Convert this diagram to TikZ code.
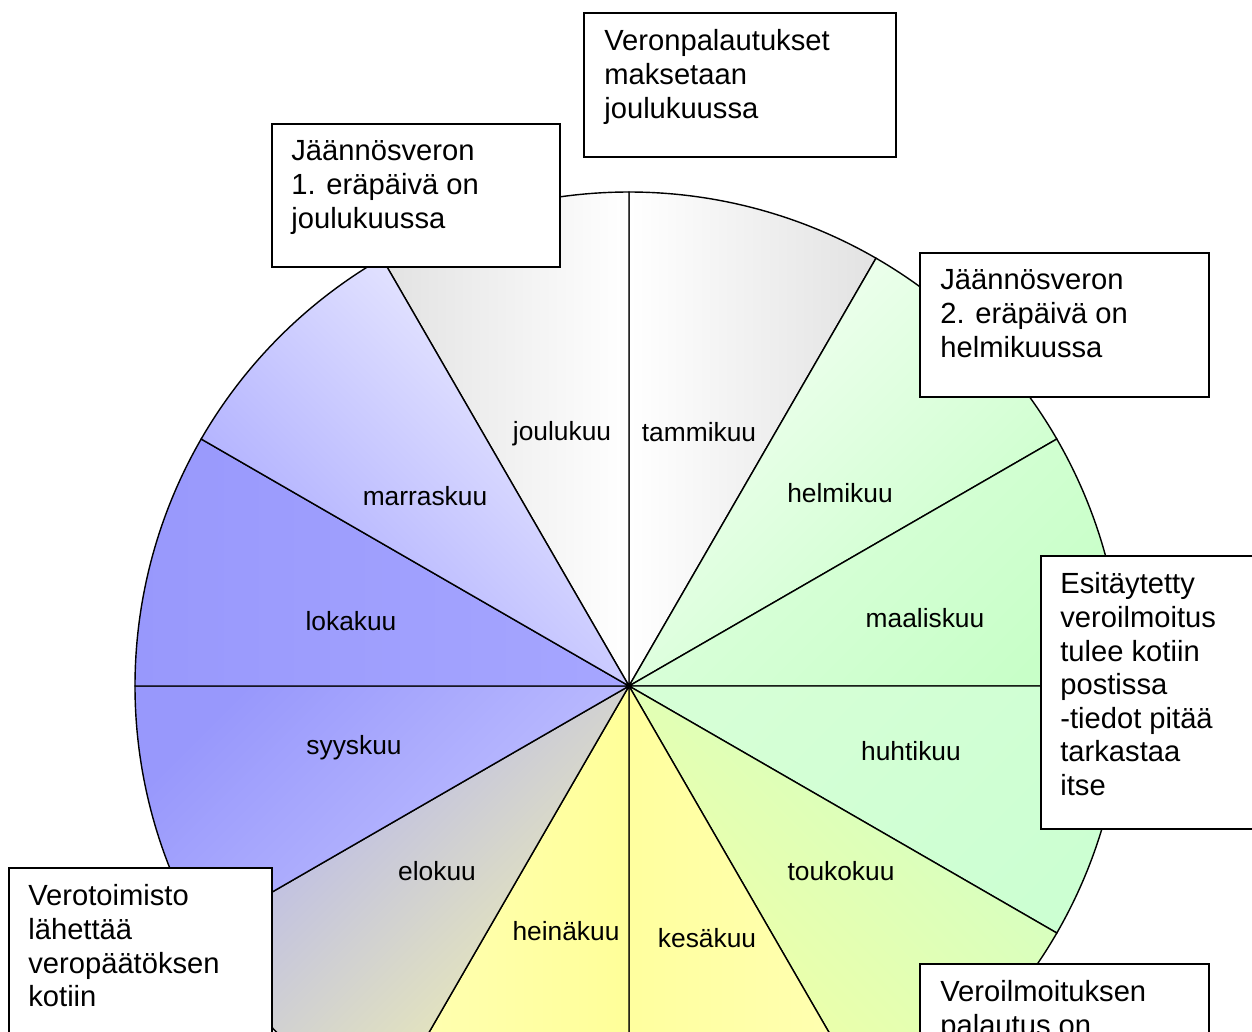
\documentclass[tikz,border=0pt]{standalone}
\usepackage{fontspec}
\setmainfont{Liberation Sans}
\usetikzlibrary{positioning}
\newcommand{\notefont}{\fontsize{16.6pt}{19.1pt}\selectfont}
\newcommand{\monthfont}{\fontsize{15pt}{18pt}\selectfont}
\definecolor{greyEdge}{HTML}{E2E2E2}
\definecolor{greenPale}{HTML}{F4FFF4}
\definecolor{greenMid}{HTML}{DEFFDE}
\definecolor{greenSoft}{HTML}{D6FFD6}
\definecolor{greenFull}{HTML}{C8FFC8}
\definecolor{greenAqua}{HTML}{CCFFD2}
\definecolor{limeGreen}{HTML}{D2FFC6}
\definecolor{limeYellow}{HTML}{F2FFA2}
\definecolor{yellowPale}{HTML}{FFFFB4}
\definecolor{yellowFull}{HTML}{FFFF99}
\definecolor{lavGrey}{HTML}{B2B2F2}
\definecolor{straw}{HTML}{F2F2AE}
\definecolor{blueDeep}{HTML}{9898FC}
\definecolor{blueMid}{HTML}{A6A6FF}
\definecolor{blueLight}{HTML}{C4C4FF}
\definecolor{bluePale}{HTML}{F0F0FF}
\tikzset{
  sector/.style   = {draw=black, line width=0.8pt},
  month/.style    = {font=\monthfont, inner sep=0pt},
  note/.style     = {rectangle, draw=black, fill=white, line width=1pt,
                     anchor=north west, inner sep=0pt},
  notetext/.style = {align=left, inner sep=0pt, font=\notefont},
}

\begin{document}
\begin{tikzpicture}[x=0.02cm, y=-0.02cm]
  \useasboundingbox (0,0) rectangle (1252,1032);
  \clip (0,0) rectangle (1252,1032);

  % year wheel, one slice per month
  \begin{scope}[shift={(629,686)}, y=0.02cm]
    \draw[sector, left color=white, right color=greyEdge]
      (0,0) -- (60:494) arc[start angle=60, end angle=90, radius=494] -- cycle;
    \draw[sector, left color=greyEdge, right color=white]
      (0,0) -- (90:494) arc[start angle=90, end angle=120, radius=494] -- cycle;
    \draw[sector, top color=greenPale, bottom color=greenFull, shading angle=45]
      (0,0) -- (30:494) arc[start angle=30, end angle=60, radius=494] -- cycle;
    \draw[sector, top color=greenMid, bottom color=greenFull, shading angle=45]
      (0,0) -- (0:494) arc[start angle=0, end angle=30, radius=494] -- cycle;
    \draw[sector, top color=greenSoft, bottom color=greenAqua, shading angle=45]
      (0,0) -- (-30:494) arc[start angle=-30, end angle=0, radius=494] -- cycle;
    \draw[sector, top color=limeGreen, bottom color=limeYellow, shading angle=-45]
      (0,0) -- (-60:494) arc[start angle=-60, end angle=-30, radius=494] -- cycle;
    \draw[sector, left color=yellowFull!80!yellowPale, right color=yellowPale]
      (0,0) -- (-90:494) arc[start angle=-90, end angle=-60, radius=494] -- cycle;
    \draw[sector, left color=yellowPale, right color=yellowFull]
      (0,0) -- (-120:494) arc[start angle=-120, end angle=-90, radius=494] -- cycle;
    \draw[sector, top color=lavGrey, bottom color=straw, shading angle=45]
      (0,0) -- (-150:494) arc[start angle=-150, end angle=-120, radius=494] -- cycle;
    \draw[sector, top color=blueDeep, bottom color=blueLight, shading angle=45]
      (0,0) -- (180:494) arc[start angle=180, end angle=210, radius=494] -- cycle;
    \draw[sector, left color=blueDeep, right color=blueMid]
      (0,0) -- (150:494) arc[start angle=150, end angle=180, radius=494] -- cycle;
    \draw[sector, top color=bluePale, bottom color=blueMid, shading angle=-45]
      (0,0) -- (120:494) arc[start angle=120, end angle=150, radius=494] -- cycle;
  \end{scope}

  \node[month] (jan) at (699,432) {tammikuu};
  \node[month] (dec) at (562,434) {joulukuu};
  \node[month] (feb) at (840,493) {helmikuu};
  \node[month] (nov) at (425,496) {marraskuu};
  \node[month] (mar) at (925,618) {maaliskuu};
  \node[month] (oct) at (351,621) {lokakuu};
  \node[month] (apr) at (911,751) {huhtikuu};
  \node[month] (sep) at (354,748) {syyskuu};
  \node[month] (may) at (841,871) {toukokuu};
  \node[month] (aug) at (437,871) {elokuu};
  \node[month] (jul) at (566,931) {heinäkuu};
  \node[month] (jun) at (707,938) {kesäkuu};

  % notes round the wheel
  \node[note, minimum width=6.24cm, minimum height=2.88cm] (refund) at (583,12) {};
  \node[notetext, below right=0.35cm and 0.42cm of refund.north west] (refundtxt)
    {Veronpalautukset\\maksetaan\\joulukuussa};

  \node[note, minimum width=5.76cm, minimum height=2.86cm] (firstdue) at (271,123) {};
  \node[notetext, below right=0.35cm and 0.40cm of firstdue.north west] (firstduetxt)
    {Jäännösveron\\1. eräpäivä on\\joulukuussa};

  \node[note, minimum width=5.78cm, minimum height=2.88cm] (seconddue) at (919,252) {};
  \node[notetext, below right=0.35cm and 0.42cm of seconddue.north west] (secondduetxt)
    {Jäännösveron\\2. eräpäivä on\\helmikuussa};

  \node[note, minimum width=5.4cm, minimum height=5.46cm] (prefilled) at (1040,555) {};
  \node[notetext, below right=0.35cm and 0.40cm of prefilled.north west] (prefilledtxt)
    {Esitäytetty\\veroilmoitus\\tulee kotiin\\postissa\\-tiedot pitää\\tarkastaa\\itse};

  \node[note, minimum width=5.26cm, minimum height=4.8cm] (decision) at (8,867) {};
  \node[notetext, below right=0.35cm and 0.40cm of decision.north west] (decisiontxt)
    {Verotoimisto\\lähettää\\veropäätöksen\\kotiin};

  \node[note, minimum width=5.78cm, minimum height=3.2cm] (returnbox) at (919,963) {};
  \node[notetext, below right=0.35cm and 0.42cm of returnbox.north west] (returntxt)
    {Veroilmoituksen\\palautus on};
\end{tikzpicture}
\end{document}
